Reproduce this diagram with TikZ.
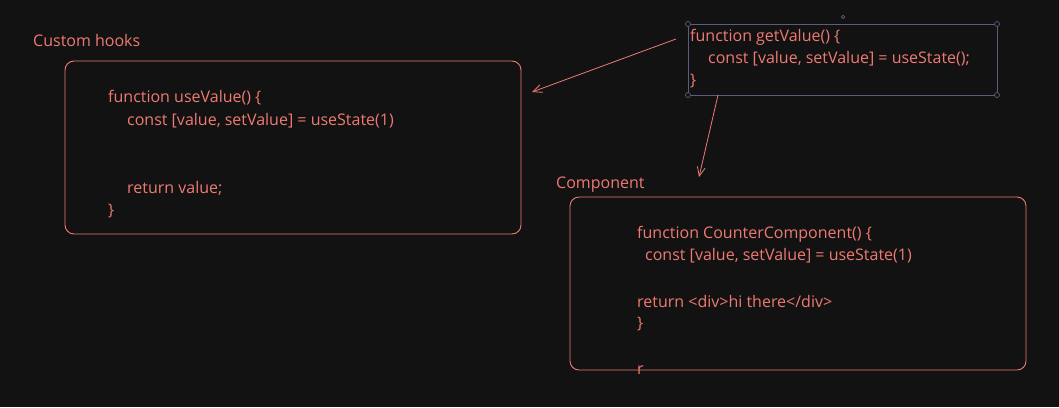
\documentclass[tikz,border=0pt]{standalone}
\usepackage{fontspec}
\setmainfont{Open Sans}
\usetikzlibrary{arrows.meta}
\definecolor{bg}{HTML}{121212}
\definecolor{salmon}{HTML}{EE7A72}
\definecolor{handle}{HTML}{5C5C7E}

\begin{document}
\begin{tikzpicture}[x=1pt,y=-1pt,
  code/.style={anchor=west,inner sep=0pt,text=salmon,font=\fontsize{16}{19}\selectfont},
  frame/.style={draw=salmon,line width=0.9pt,rounded corners=9pt},
  link/.style={draw=salmon,line width=0.8pt,-{Straight Barb[length=9pt,width=8pt]}},
  knob/.style={circle,draw=handle,fill=bg,line width=0.7pt,inner sep=0pt,minimum size=5pt}]
\fill[bg] (0,0) rectangle (1059,407);
\useasboundingbox (0,0) rectangle (1059,407);
% custom hook
\node[code] (hooks) at (33,40) {Custom hooks};
\draw[frame] (65,61) rectangle (521,234);
\node[code] (h1) at (108,98) {function useValue() \{};
\node[code] (h2) at (127,121) {const [value, setValue] = useState(1)};
\node[code] (h3) at (127,188) {return value;};
\node[code] (h4) at (108,211) {\}};
% selected snippet
\draw[handle,line width=0.7pt] (688,24) rectangle (997,95);
\node[knob] (k1) at (688,24) {};
\node[knob] (k2) at (997,24) {};
\node[knob] (k3) at (688,95) {};
\node[knob] (k4) at (997,95) {};
\node[knob,minimum size=3.5pt] (rot) at (843,17) {};
\node[code] (g1) at (690,37) {function getValue() \{};
\node[code] (g2) at (708,59) {const [value, setValue] = useState();};
\node[code] (g3) at (690,81) {\}};
\coordinate (a1) at (676,39);
\coordinate (b1) at (532,92);
\coordinate (a2) at (718,95);
\coordinate (b2) at (699,177);
\draw[link] (a1) -- (b1);
\draw[link] (a2) -- (b2);
% component
\node[code] (comp) at (556,185) {Component};
\draw[frame] (570,197) rectangle (1026,370);
\node[code] (c1) at (637,234) {function CounterComponent() \{};
\node[code] (c2) at (645,256) {const [value, setValue] = useState(1)};
\node[code] (c3) at (637,301) {return <div>hi there</div>};
\node[code] (c4) at (637,324) {\}};
\node[code] (c5) at (637,370) {r};
\end{tikzpicture}
\end{document}
